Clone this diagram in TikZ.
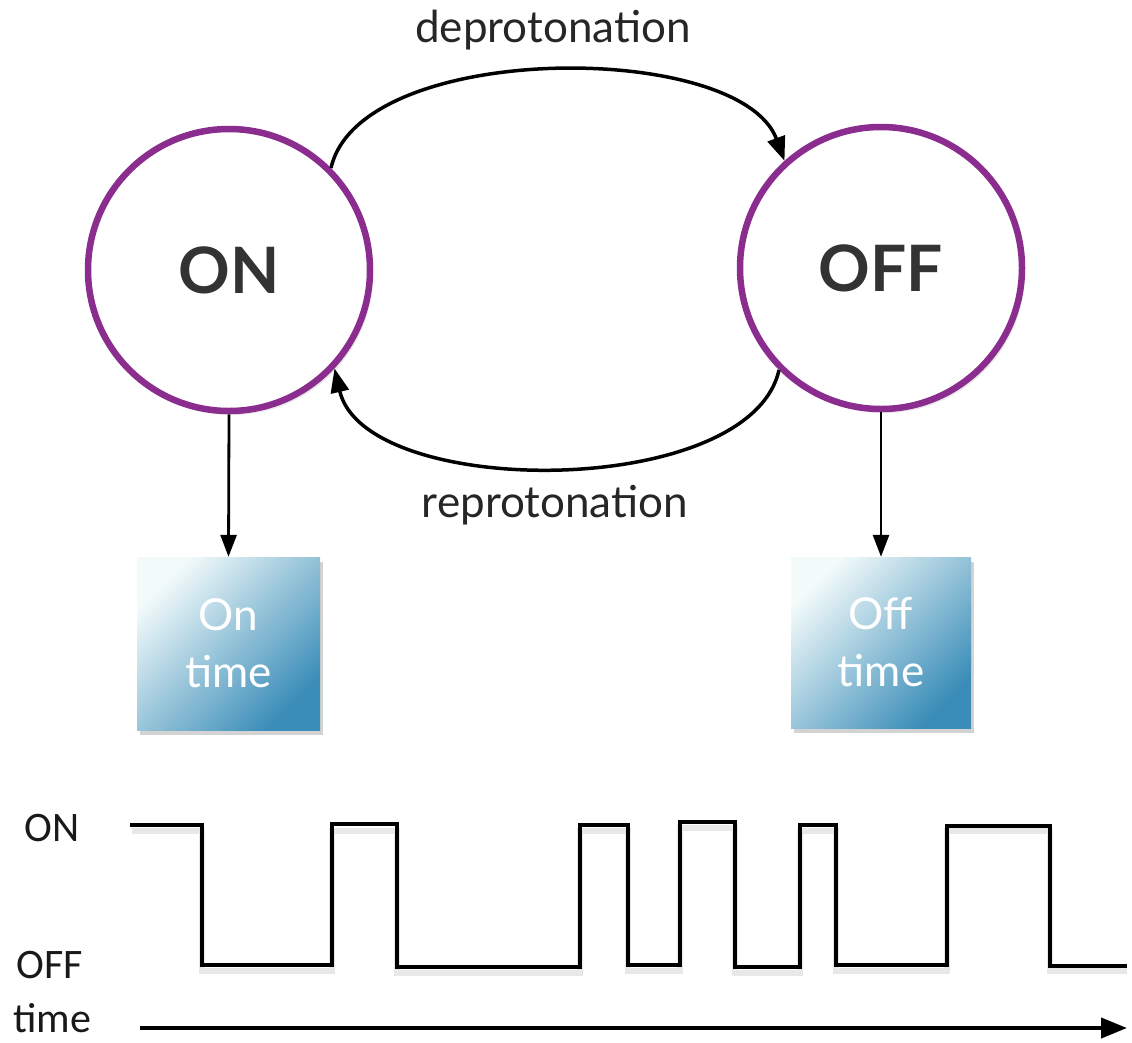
\documentclass[tikz,border=0pt]{standalone}
\usepackage{fontspec}
\setmainfont{Lato}
\newfontfamily\labfont{Carlito}
\usetikzlibrary{arrows.meta,shadows}
\definecolor{ringpurple}{HTML}{8B2D8F}
\definecolor{darktext}{HTML}{333333}
\definecolor{boxlight}{HTML}{F2FAFA}
\definecolor{boxmid}{HTML}{8CC3CA}
\definecolor{boxdark}{HTML}{3A8DB8}
\tikzset{
  state/.style={circle, draw=ringpurple, fill=white, line width=6.5pt, minimum size=282pt, inner sep=0pt,
    font=\fontsize{64}{66}\selectfont\bfseries, text=darktext,
    drop shadow={opacity=0.18, shadow xshift=3pt, shadow yshift=-4pt}},
  timebox/.style={rectangle, minimum width=183pt, minimum height=173pt, inner sep=0pt,
    left color=boxlight, middle color=boxmid, right color=boxdark, shading angle=45,
    text=white, align=center, font=\fontsize{44}{57}\selectfont,
    drop shadow={opacity=0.35, shadow xshift=3pt, shadow yshift=-5pt}},
  trans/.style={line width=3.5pt, -{Triangle[length=24pt,width=18pt]}},
  down/.style={line width=2.8pt, -{Triangle[length=22pt,width=16pt]}},
  wave/.style={line width=4pt, line join=miter},
  lab/.style={font=\fontsize{44}{46}\selectfont, text=black!85},
  axlab/.style={font=\labfont\fontsize{42}{44}\selectfont, text=black!90}
}
\begin{document}
\begin{tikzpicture}[x=1pt,y=-1pt]
\useasboundingbox (0,0) rectangle (1132,1042);
\node[state] (on) at (229,270) {ON};
\node[state] (off) at (881,268) {OFF};
\node[lab] (dep) at (553,30) {deprotonation};
\node[lab] (rep) at (555,505) {reprotonation};
\draw[trans] (on.45) .. controls (360,40) and (740,40) .. (off.132);
\draw[trans] (off.225) .. controls (750,500) and (365,500) .. (on.-43);
\node[timebox] (ontime) at (228.5,643.5) {On\\time};
\node[timebox, minimum width=180pt, minimum height=171pt] (offtime) at (881,642.5) {Off\\time};
\draw[down] (on.south) -- (ontime.north);
\draw[down] (off.south -| offtime.north) -- (offtime.north);
\node[axlab] (lon) at (52,828) {ON};
\node[axlab] (loff) at (50,965) {OFF};
\node[axlab, anchor=base, inner sep=0pt] (ltime) at (52,1032) {time};
\coordinate (t0) at (140,1028);
\coordinate (t1) at (1127,1028);
\draw[black!15, line width=6pt, opacity=0.6] (132,831) -- (202,831) -- (202,971) -- (332,971) -- (332,831) -- (397,831) -- (397,973) -- (580,973) -- (580,831) -- (628,831) -- (628,971) -- (680,971) -- (680,828) -- (735,828) -- (735,973) -- (800,973) -- (800,831) -- (836,831) -- (836,971) -- (947,971) -- (947,831) -- (1050,831) -- (1050,971) -- (1127,971);
\draw[wave] (130,825) -- (202,825) -- (202,965) -- (332,965) -- (332,824) -- (397,824) -- (397,967) -- (580,967) -- (580,825) -- (628,825) -- (628,965) -- (680,965) -- (680,822) -- (735,822) -- (735,967) -- (800,967) -- (800,825) -- (836,825) -- (836,965) -- (947,965) -- (947,826) -- (1050,826) -- (1050,966) -- (1127,966);
\draw[line width=4pt, -{Triangle[length=26pt,width=20pt]}] (t0) -- (t1);
\end{tikzpicture}
\end{document}
